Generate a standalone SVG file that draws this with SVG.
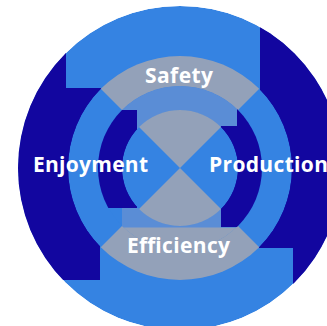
<svg xmlns="http://www.w3.org/2000/svg" width="327" height="326" viewBox="0 0 327 326">
<style>
.lb{fill:#3583E2}
.dk{fill:#12069F}
.gr{fill:#93A1B9}
.st{fill:#5A8DD6}
.lbl{font-family:"Open Sans","Liberation Sans",sans-serif;font-weight:700;font-size:21px;fill:#FFFFFF}
</style>
<defs>
<clipPath id="cOuter"><circle cx="180" cy="168" r="162"/></clipPath>
<clipPath id="cRing"><circle cx="180" cy="168" r="112"/></clipPath>
<clipPath id="cBand"><circle cx="180" cy="168" r="82"/></clipPath>
<clipPath id="cCore"><circle cx="180" cy="168" r="58"/></clipPath>
</defs>
<rect width="327" height="326" fill="#FFFFFF"/>
<g id="outer" clip-path="url(#cOuter)">
<circle class="lb" cx="180" cy="168" r="162"/>
<polygon class="dk" points="0,0 66,0 66,88 180,88 180,200 100,200 100,280 0,280"/>
<polygon class="dk" points="260,0 340,0 340,340 293,340 293,248 180,248 180,100 260,100"/>
</g>
<g id="ring" clip-path="url(#cRing)">
<circle class="lb" cx="180" cy="168" r="112"/>
<polygon class="gr" points="180,168 -20,-32 380,-32"/>
<polygon class="gr" points="180,168 -20,368 380,368"/>
</g>
<g id="band" clip-path="url(#cBand)">
<circle class="lb" cx="180" cy="168" r="82"/>
<polygon class="dk" points="60,110 137,110 137,208 60,208"/>
<polygon class="st" points="60,40 237,40 237,126 180,126 180,168 137,168 137,110 60,110"/>
<polygon class="dk" points="237,60 300,60 300,227 221,227 221,126 237,126"/>
<rect class="st" x="122" y="208" width="99" height="20"/>
<rect class="gr" x="90" y="227.5" width="180" height="40"/>
</g>
<g id="core" clip-path="url(#cCore)">
<circle class="lb" cx="180" cy="168" r="58"/>
<polygon class="gr" points="180,168 100,88 260,88"/>
<polygon class="gr" points="180,168 100,248 260,248"/>
</g>
<g id="safety"><text class="lbl" x="179" y="83" text-anchor="middle" textLength="68">Safety</text></g>
<g id="enjoyment"><text class="lbl" x="33" y="172" textLength="115">Enjoyment</text></g>
<g id="production"><text class="lbl" x="209" y="172" textLength="119">Production</text></g>
<g id="efficiency"><text class="lbl" x="127" y="253" textLength="103">Efficiency</text></g>
</svg>
